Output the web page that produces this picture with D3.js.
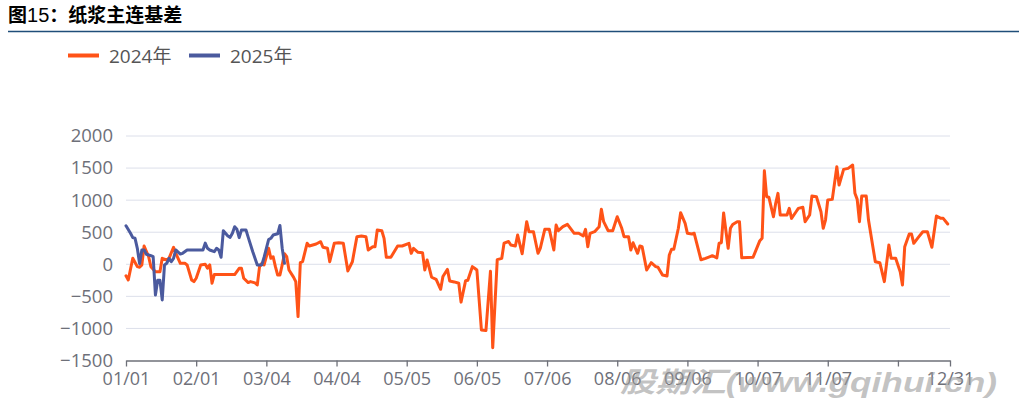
<!DOCTYPE html>
<html>
<head>
<meta charset="utf-8">
<script src="https://cdn.jsdelivr.net/npm/d3@7/dist/d3.min.js"></script>
<style>
  html, body { margin: 0; padding: 0; background: #fff; }
  svg { display: block; }
</style>
</head>
<body>
<svg id="chart" width="1019" height="413"></svg>
<script>
// ---------- DATA ----------
const titleText = "纸浆主连基差";
const seriesNames = ["2024年", "2025年"];
const seriesColors = ["#FF5317", "#4B5A9E"];

const xTickLabels = ["01/01","02/01","03/04","04/04","05/05","06/05","07/06","08/06","09/06","10/07","11/07","12/08","12/31"];
const xHiddenLabels = ["12/08"];
const yTicks = [-1500, -1000, -500, 0, 500, 1000, 1500, 2000];

const series2024 = [
["01/01",-180],["01/02",-245],["01/04",95],["01/06",-37],["01/07",-47],["01/08",-10],["01/09",285],["01/11",118],
["01/12",-37],["01/14",-115],["01/16",-115],["01/17",93],["01/19",67],["01/20",93],["01/22",265],["01/23",171],
["01/25",15],["01/27",15],["01/28",-10],["01/30",-245],["01/31",-270],["02/01",-218],["02/03",-10],["02/05",0],
["02/06",-60],["02/07",-10],["02/08",-295],["02/09",-160],["02/18",-160],["02/20",-62],["02/21",-62],["02/22",-218],
["02/24",-285],["02/25",-270],["02/27",-290],["02/28",-322],["03/01",-37],["03/02",15],["03/03",-10],["03/05",249],
["03/06",93],["03/07",118],["03/08",-37],["03/09",-167],["03/10",-167],["03/11",-10],["03/12",165],["03/13",118],
["03/14",-89],["03/16",-200],["03/17",-270],["03/18",-815],["03/19",25],["03/20",40],["03/22",327],["03/23",285],
["03/26",316],["03/28",352],["03/29",265],["03/31",249],["04/01",40],["04/03",327],["04/05",336],["04/07",327],
["04/09",-104],["04/11",40],["04/13",430],["04/15",440],["04/17",430],["04/18",223],["04/20",274],["04/21",274],
["04/22",534],["04/24",523],["04/25",405],["04/26",109],["04/28",109],["05/01",285],["05/03",285],["05/06",327],
["05/07",171],["05/08",249],["05/10",187],["05/12",181],["05/13",-89],["05/14",67],["05/15",-62],["05/16",-202],
["05/18",-234],["05/20",-390],["05/21",-190],["05/23",-80],["05/24",-260],["05/26",-275],["05/28",-296],["05/29",-590],
["05/31",-258],["06/01",-250],["06/03",-37],["06/04",-62],["06/05",-89],["06/07",-1023],["06/09",-1034],["06/11",-108],
["06/12",-1300],["06/14",72],["06/16",93],["06/17",330],["06/19",355],["06/20",300],["06/22",285],["06/23",456],
["06/25",165],["06/27",664],["06/28",508],["06/30",508],["07/02",171],["07/03",249],["07/05",545],["07/07",545],
["07/09",223],["07/10",612],["07/11",523],["07/13",586],["07/15",623],["07/18",483],["07/20",483],["07/22",441],
["07/23",545],["07/24",274],["07/25",483],["07/27",508],["07/29",586],["07/30",857],["07/31",664],["08/02",523],
["08/04",523],["08/06",741],["08/08",561],["08/09",430],["08/11",430],["08/12",223],["08/13",336],["08/15",171],
["08/16",285],["08/17",274],["08/19",-89],["08/21",25],["08/23",-37],["08/24",-47],["08/26",-167],["08/28",-182],
["08/29",145],["08/30",234],["08/31",234],["09/02",561],["09/03",804],["09/05",639],["09/06",483],["09/08",472],
["09/09",483],["09/12",70],["09/14",93],["09/16",120],["09/17",134],["09/19",100],["09/20",327],["09/21",336],
["09/22",800],["09/24",249],["09/25",561],["09/26",620],["09/28",664],["09/29",664],["09/30",100],["10/05",109],
["10/08",368],["10/09",405],["10/10",1458],["10/11",1053],["10/12",1044],["10/14",741],["10/15",950],["10/16",1106],
["10/17",768],["10/20",768],["10/21",872],["10/22",716],["10/24",819],["10/25",872],["10/27",888],["10/28",664],
["10/30",768],["10/31",1064],["11/02",1053],["11/04",819],["11/05",561],["11/06",690],["11/07",1002],["11/09",1012],
["11/11",1520],["11/12",1235],["11/14",1480],["11/16",1495],["11/18",1547],["11/19",1106],["11/20",1012],["11/21",664],
["11/22",1064],["11/24",1064],["11/25",690],["11/28",40],["11/30",25],["12/02",-270],["12/04",300],["12/05",93],
["12/07",93],["12/09",-115],["12/10",-322],["12/11",274],["12/13",472],["12/14",472],["12/15",327],["12/17",420],
["12/19",508],["12/21",508],["12/23",265],["12/25",752],["12/27",716],["12/28",716],["12/30",628]
];

const series2025 = [
["01/01",600],["01/03",483],["01/04",415],["01/05",405],["01/06",249],["01/07",10],["01/08",223],["01/09",223],
["01/10",156],["01/12",134],["01/13",118],["01/14",-480],["01/15",-250],["01/16",-250],["01/17",-556],["01/18",-10],
["01/19",15],["01/20",93],["01/21",40],["01/22",93],["01/23",223],["01/25",160],["01/26",171],["01/28",223],
["02/04",223],["02/05",330],["02/06",249],["02/07",223],["02/09",196],["02/10",249],["02/11",223],["02/12",109],
["02/13",523],["02/15",440],["02/16",420],["02/17",483],["02/18",586],["02/19",545],["02/20",415],["02/21",534],
["02/23",534],["02/24",420],["02/26",196],["02/28",-10],["03/02",-10],["03/03",110],["03/05",385],["03/06",405],
["03/07",456],["03/09",475],["03/10",605],["03/11",250],["03/12",15]
];

// ---------- CHART ----------
const svg = d3.select("#chart");
const parse = s => d3.timeParse("%Y/%m/%d")("2025/" + s);
const font = "'Open Sans', 'Noto Sans CJK SC', sans-serif";

const x = d3.scaleTime()
  .domain([parse("01/01"), parse("12/31")])
  .range([126, 950]);
const y = d3.scaleLinear()
  .domain([-1500, 2000])
  .range([360.5, 136]);

// Title
const title = svg.append("text")
  .attr("x", 8).attr("y", 22)
  .attr("font-family", "'Noto Sans CJK SC', sans-serif")
  .attr("font-size", 19).attr("fill", "#000");
title.append("tspan").attr("font-weight", "bold").text("图");
title.append("tspan").attr("font-family", "'Liberation Sans', sans-serif").attr("font-size", 20).text("15");
title.append("tspan").attr("font-weight", "bold").text("：" + titleText);

svg.append("line")
  .attr("x1", 8).attr("x2", 1019).attr("y1", 31.5).attr("y2", 31.5)
  .attr("stroke", "#1F4E79").attr("stroke-width", 1.5);

// Legend
const legend = svg.append("g");
const legendX = [68, 189];
seriesNames.forEach((name, i) => {
  legend.append("line")
    .attr("x1", legendX[i]).attr("x2", legendX[i] + 31)
    .attr("y1", 55.5).attr("y2", 55.5)
    .attr("stroke", seriesColors[i]).attr("stroke-width", 4);
  legend.append("text")
    .attr("x", legendX[i] + 41).attr("y", 62.5)
    .attr("font-family", font).attr("font-size", 19)
    .attr("fill", "#555").text(name);
});

// Grid lines
svg.append("g")
  .selectAll("line")
  .data(yTicks.filter(t => t !== -1500))
  .join("line")
  .attr("x1", x.range()[0]).attr("x2", x.range()[1])
  .attr("y1", d => y(d)).attr("y2", d => y(d))
  .attr("stroke", "#DCDFEA").attr("stroke-width", 1);

// Y axis (labels only)
const yAxis = d3.axisLeft(y).tickValues(yTicks).tickFormat(d3.format("d")).tickSize(0).tickPadding(13);
const gy = svg.append("g").attr("transform", `translate(${x.range()[0]},0)`).call(yAxis);
gy.select(".domain").remove();
gy.selectAll("text")
  .attr("font-family", font).attr("font-size", 18.5).attr("fill", "#6E7079");

// X axis
const xAxis = d3.axisBottom(x)
  .tickValues(xTickLabels.map(parse))
  .tickFormat(d => {
    const s = d3.timeFormat("%m/%d")(d);
    return xHiddenLabels.includes(s) ? "" : s;
  })
  .tickSize(6).tickSizeOuter(0).tickPadding(6);
const gx = svg.append("g").attr("transform", `translate(0,${y(-1500)})`).call(xAxis);
gx.select(".domain").attr("stroke", "#6E7079").attr("stroke-width", 1.3);
gx.selectAll(".tick line").attr("stroke", "#6E7079").attr("stroke-width", 1.3);
gx.selectAll("text")
  .attr("font-family", font).attr("font-size", 18).attr("fill", "#6E7079");

// Lines
const line = d3.line()
  .x(d => x(parse(d[0])))
  .y(d => y(d[1]));

[series2024, series2025].forEach((s, i) => {
  svg.append("path")
    .datum(s)
    .attr("d", line)
    .attr("fill", "none")
    .attr("stroke", seriesColors[i])
    .attr("stroke-width", 3)
    .attr("stroke-linejoin", "round")
    .attr("stroke-linecap", "round");
});

// Watermark (present in the reference image)
svg.append("text")
  .attr("x", 620).attr("y", 392)
  .attr("font-family", "'Liberation Sans', 'Noto Sans CJK SC', sans-serif")
  .attr("font-weight", "bold").attr("font-style", "italic")
  .attr("font-size", 28)
  .attr("textLength", 377).attr("lengthAdjust", "spacingAndGlyphs")
  .attr("fill", "#9a9a9a").attr("fill-opacity", 0.6)
  .text("股期汇(www.gqihui.cn)");
</script>
</body>
</html>
